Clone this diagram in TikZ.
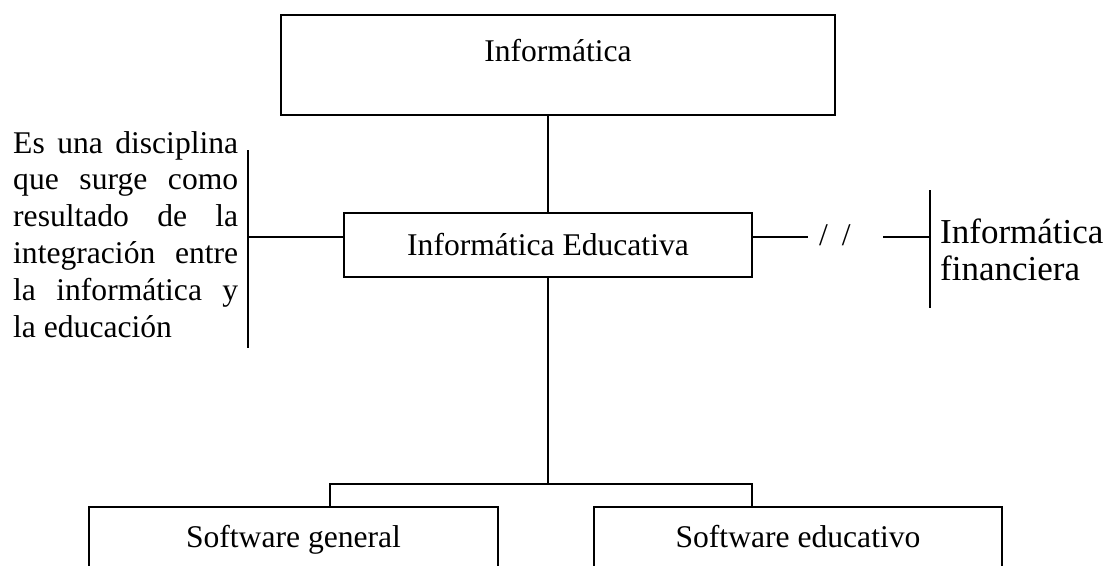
\documentclass[tikz,border=0pt]{standalone}
\usepackage{fontspec}
\setmainfont{Liberation Serif}
\begin{document}
\begin{tikzpicture}[x=1pt,y=-1pt,
  txt/.style={font=\fontsize{31.6}{36.8}\selectfont},
  box/.style={draw, line width=1.8pt, inner sep=0pt, outer sep=0pt, txt},
  ln/.style={line width=1.5pt}]
\useasboundingbox (0,0) rectangle (1116,565);
\clip (0,0) rectangle (1116,565);
% boxes
\node[box, minimum width=554pt, text height=46pt, text depth=54pt, anchor=north] (inf) at (558,15) {Informática};
\node[box, minimum width=408pt, text height=42pt, text depth=22pt, anchor=north] (edu) at (548,213) {Informática Educativa};
\node[box, minimum width=409pt, text height=40pt, text depth=26pt, anchor=north] (sg) at (293.5,507) {Software general};
\node[box, minimum width=408pt, text height=40pt, text depth=26pt, anchor=north] (se) at (798,507) {Software educativo};
% texts
\node[txt, anchor=base west, inner sep=0pt] (desc) at (13,153) {\parbox[t]{225pt}{%
  \makebox[225pt][s]{Es una disciplina}\\
  \makebox[225pt][s]{que surge como}\\
  \makebox[225pt][s]{resultado de la}\\
  \makebox[225pt][s]{integración entre}\\
  \makebox[225pt][s]{la informática y}\\
  la educación}};
\node[font=\fontsize{35}{37}\selectfont, anchor=base west, inner sep=0pt] (fin) at (940,243) {\parbox[t]{176pt}{\raggedright Informática\\financiera}};
\node[txt, anchor=base west, inner sep=0pt] (sl) at (819,245) {/\kern14pt/};
% coordinates
\coordinate (hy) at (0,237);
\coordinate (lt) at (248,150); \coordinate (lb) at (248,348);
\coordinate (rt) at (930,190); \coordinate (rb) at (930,308);
\coordinate (ja) at (808,237); \coordinate (jb) at (883,237);
\coordinate (jl) at (330,484); \coordinate (jr) at (752,484);
% connectors
\draw[ln] (inf.south -| edu.north) -- (edu.north);
\draw[ln] (edu.west |- hy) -- (lt |- hy);
\draw[ln] (lt) -- (lb);
\draw[ln] (edu.east |- hy) -- (ja);
\draw[ln] (jb) -- (rt |- hy);
\draw[ln] (rt) -- (rb);
\draw[ln] (edu.south) -- (edu.south |- jl);
\draw[ln] (jl |- sg.north) -- (jl) -- (jr) -- (jr |- se.north);
\end{tikzpicture}
\end{document}
